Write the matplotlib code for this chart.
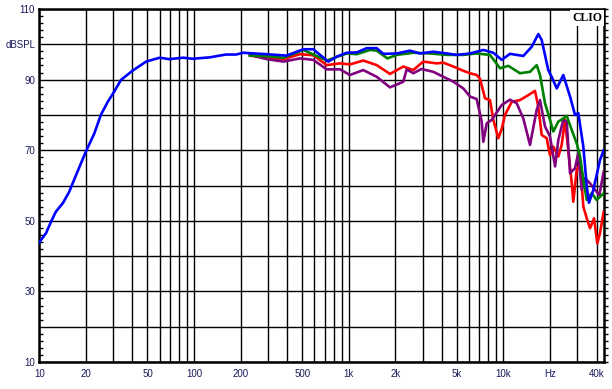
import matplotlib.pyplot as plt
import numpy as np

plt.rcParams["font.family"] = ["Liberation Sans", "DejaVu Sans"]

# frequency response curves (Hz, dB SPL)
blue_f = [10, 11.05, 11.9, 12.8, 14.2, 15.6, 17.3, 20, 22.7, 25, 27.7, 30.5, 33.7,
          40, 49, 60, 69, 85, 98, 126, 161, 187, 208, 295, 397, 509, 590, 653,
          738, 836, 971, 1127, 1307, 1517, 1675, 2043, 2490, 2890, 3524, 4303,
          4994, 6085, 7418, 8606, 9750, 11030, 13450, 15240, 16820, 17690, 19500,
          20510, 22130, 24390, 26960, 29040, 30490, 32870, 34590, 35740, 38100,
          42100, 44500]
blue_db = [43.9, 46.5, 49.7, 52.6, 55.0, 58.2, 63.0, 69.6, 74.8, 80.0, 83.7, 86.6,
           89.9, 92.5, 95.1, 96.2, 95.8, 96.2, 95.9, 96.3, 97.1, 97.1, 97.6, 97.2,
           96.8, 98.6, 98.6, 97.0, 95.1, 96.5, 97.6, 97.7, 98.9, 98.9, 97.3, 97.4,
           98.2, 97.4, 97.9, 97.4, 97.0, 97.4, 98.4, 97.6, 95.6, 97.3, 96.7, 99.3,
           102.9, 101.2, 92.7, 90.8, 87.5, 91.3, 85.2, 80.0, 80.5, 71.0, 59.7,
           55.1, 58.7, 67.2, 70.0]

green_f = [230, 300, 378, 509, 721, 971, 1127, 1374, 1517, 1780, 2043, 2615, 3355,
           4303, 5507, 6717, 8190, 9510, 10760, 12800, 14860, 16410, 17250, 18580,
           20000, 21020, 22650, 24390, 25650, 27670, 29790, 31320, 32870, 34590,
           37220, 40090, 44500]
green_db = [96.8, 96.6, 96.2, 98.4, 95.4, 97.4, 97.2, 98.4, 98.2, 96.0, 97.0, 97.6,
            97.4, 97.0, 97.0, 97.4, 97.0, 93.2, 93.9, 91.8, 92.2, 94.1, 91.3, 83.3,
            78.6, 75.3, 78.1, 79.0, 79.7, 75.7, 71.9, 68.2, 61.6, 55.9, 57.8, 55.9,
            57.8]

red_f = [230, 295, 378, 484, 590, 721, 879, 1019, 1242, 1517, 1849, 2254, 2615,
         3034, 3706, 4090, 4746, 5507, 6085, 6717, 7063, 7605, 8190, 8606, 9270,
         9750, 10240, 11320, 12800, 14490, 16000, 16820, 17690, 19050, 20000,
         21020, 22650, 23820, 25010, 26280, 27670, 28310, 29790, 31320, 32870,
         34590, 36300, 38540, 40460, 42100, 44500]
red_db = [96.8, 96.2, 95.8, 97.2, 96.9, 94.1, 94.6, 94.3, 95.4, 94.1, 91.6, 93.7,
          92.7, 95.1, 94.6, 94.8, 93.7, 92.5, 91.8, 91.3, 90.2, 84.7, 84.2, 78.6,
          73.4, 76.0, 80.0, 83.7, 84.2, 85.6, 86.8, 82.3, 74.3, 73.4, 68.6, 71.0,
          68.2, 71.5, 78.6, 70.0, 60.6, 55.4, 64.4, 66.3, 54.0, 50.7, 47.9, 50.7,
          43.6, 46.5, 52.6]

purple_f = [230, 295, 378, 484, 590, 721, 879, 1019, 1242, 1517, 1849, 2254, 2371,
            2615, 2950, 3524, 4090, 4746, 5507, 6085, 6717, 7240, 7418, 7800, 8400,
            8830, 9750, 11030, 12190, 13450, 14860, 16410, 17250, 18580, 20000,
            21580, 22650, 24390, 25650, 26960, 29040, 30490, 32070, 33670, 36300,
            39080, 41690, 44500]
purple_db = [97.0, 95.8, 95.1, 96.0, 95.6, 92.9, 92.9, 91.3, 92.7, 90.8, 87.8,
             89.4, 92.9, 91.8, 93.0, 92.2, 90.8, 89.4, 87.5, 85.2, 84.5, 78.1, 72.4,
             77.6, 78.6, 80.0, 82.8, 84.3, 83.3, 79.0, 71.5, 81.4, 84.2, 76.7, 73.9,
             65.4, 72.9, 78.6, 78.1, 63.5, 64.9, 69.2, 58.8, 62.1, 60.6, 58.8, 57.3,
             63.9]

x_labels = {10: "10", 20: "20", 50: "50", 100: "100", 200: "200", 500: "500",
            1000: "1k", 2000: "2k", 5000: "5k", 10000: "10k", 20000: "Hz",
            40000: "40k"}
y_labels = {10: "10", 30: "30", 50: "50", 70: "70", 90: "90", 100: "dBSPL",
            110: "110"}

label_color = "#1a1a5a"

fig = plt.figure(figsize=(6.12, 3.89), dpi=100)
ax = fig.add_axes([39.3 / 612, 27 / 389, (604 - 39.3) / 612, 353 / 389])

ax.set_xscale("log")
ax.set_xlim(10, 44700)
ax.set_ylim(10, 110)

# grid positions: every 1..9 multiple per decade, every 10 dB
grid_x = [m * 10 ** e for e in range(1, 5) for m in range(1, 10) if m * 10 ** e <= 40000]
ax.set_xticks(grid_x)
ax.set_xticklabels([x_labels.get(f, "") for f in grid_x])
ax.xaxis.set_minor_locator(plt.NullLocator())
ax.set_yticks(np.arange(10, 111, 10))
ax.set_yticklabels([y_labels.get(v, "") for v in range(10, 111, 10)])
ax.set_yticks(np.arange(10, 111, 2), minor=True)

ax.grid(True, which="major", color="black", lw=1.0)
ax.tick_params(axis="x", which="both", length=0, pad=5, labelsize=7,
               labelcolor=label_color)
ax.tick_params(axis="y", which="major", length=0, pad=3, labelsize=7,
               labelcolor=label_color)
ax.tick_params(axis="y", which="minor", direction="in", length=3, width=1,
               left=True, right=False)

for s in ax.spines.values():
    s.set_linewidth(1.8)

# right side ticks point outward
ax2 = ax.twinx()
ax2.set_ylim(10, 110)
ax2.set_yticks(np.arange(10, 111, 2))
ax2.set_yticklabels([])
ax2.tick_params(axis="y", direction="out", length=3, width=1)
for s in ax2.spines.values():
    s.set_visible(False)

ax.plot(red_f, red_db, color="#ff0000", lw=1.9, zorder=3)
ax.plot(purple_f, purple_db, color="#800080", lw=1.9, zorder=3)
ax.plot(green_f, green_db, color="#008000", lw=1.9, zorder=3)
ax.plot(blue_f, blue_db, color="#0000ff", lw=1.9, zorder=4)

ax.text(0.997, 0.992, "CLIO", transform=ax.transAxes, ha="right", va="top",
        fontsize=8.5, fontweight="bold", family="Liberation Serif",
        bbox=dict(facecolor="white", edgecolor="none", pad=1.5), zorder=5)

fig.savefig("out.png", dpi=100)
